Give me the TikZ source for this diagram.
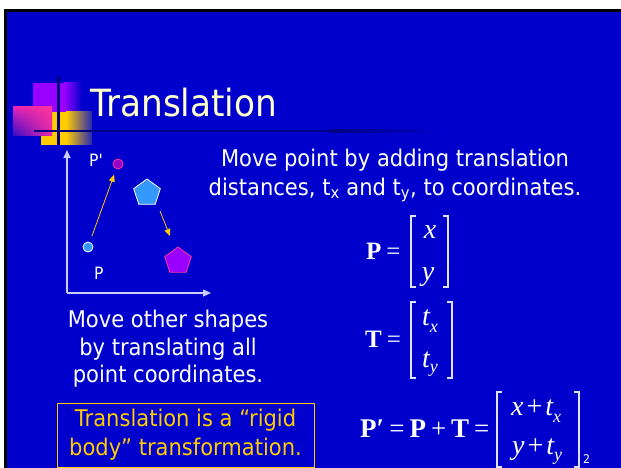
\documentclass[tikz,border=0pt]{standalone}
\usepackage{fontspec}
\newfontfamily\tah{DejaVu Sans}[FakeStretch=0.915]
\newfontfamily\tms{Liberation Serif}
\usetikzlibrary{arrows.meta,shapes.geometric,shadings}
\definecolor{bgblue}{HTML}{0000CC}
\definecolor{ttl}{HTML}{FFFFCC}
\definecolor{gold}{HTML}{FFCC00}
\definecolor{axisc}{HTML}{CCCCFF}
\definecolor{lblue}{HTML}{3399FF}
\definecolor{purp}{HTML}{9900FF}
\definecolor{dpurp}{HTML}{9900CC}
\definecolor{pinkc}{HTML}{FF3399}
\definecolor{navyc}{HTML}{000080}
\definecolor{brkc}{HTML}{E0E0FF}
\tikzset{
  body/.style={text=white, font=\tah\fontsize{23}{28}\selectfont, inner sep=0pt, anchor=base},
  mathop/.style={text=white, inner sep=0pt, anchor=base west},
  ent/.style={text=white, inner sep=0pt, anchor=base, font=\tms\itshape\fontsize{28}{28}\selectfont},
  brk/.style={draw=brkc, line width=1.3pt},
  axisline/.style={draw=axisc, line width=1.2pt, -{Triangle[length=8pt,width=7pt]}},
  movearrow/.style={draw=gold, line width=0.8pt, -{Triangle[length=7pt,width=6pt]}},
  lbl/.style={text=white, font=\tah\fontsize{17}{17}\selectfont, inner sep=0pt, anchor=base west},
  dot/.style={circle, inner sep=0pt, minimum size=10pt, line width=0.8pt},
  pent/.style={regular polygon, regular polygon sides=5, inner sep=0pt, minimum size=28pt, line width=0.8pt}
}
\newcommand{\subx}[2]{\raisebox{-#1pt}{\fontsize{18}{18}\selectfont #2}}
\begin{document}
\begin{tikzpicture}[x=1pt,y=-1pt]
\useasboundingbox (0,0) rectangle (621,468);
% background and frame
\fill[white] (0,0) rectangle (621,468);
\fill[black] (4,9) rectangle (621,468);
\fill[bgblue] (7,12) rectangle (621,468);
% logo
\fill[purp] (33,83) rectangle (64,113);
\shade[left color=purp, right color=bgblue] (64,83) rectangle (82,113);
\fill[gold] (41,112) rectangle (66,145);
\shade[left color=gold, right color=bgblue!70!gray] (66,112) rectangle (92,145);
\shade[upper left=pinkc!70!purp, upper right=pinkc, lower left=bgblue!80!pinkc, lower right=pinkc!80!purp] (13,107) rectangle (52,136);
\fill[navyc] (57,76) rectangle (59.5,145);
\fill[navyc] (34,130) rectangle (330,132.5);
\shade[left color=navyc, right color=bgblue] (330,130) rectangle (440,132.5);
% title
\node[font=\tah\fontsize{37.5}{37.5}\selectfont, text=ttl, anchor=base west, inner sep=0pt] (title) at (90,117) {Translation};
% axes
\coordinate (orig) at (67,293);
\coordinate (ytip) at (67,150);
\coordinate (xtip) at (211,293);
\draw[axisline] (orig) -- (ytip);
\draw[axisline] (orig) -- (xtip);
% points and shapes
\node[dot, fill=lblue, draw=white] (pdot) at (88,247) {};
\node[dot, fill=dpurp, draw=pinkc] (ppdot) at (118,164) {};
\node[lbl] (plabel) at (94,279) {P};
\node[lbl] (pplabel) at (89,167) {P'};
\draw[movearrow, shorten <=6pt, shorten >=6pt] (pdot) -- (ppdot);
\node[pent, fill=lblue, draw=white] (bpent) at (147,193) {};
\node[pent, fill=purp, draw=pinkc] (ppent) at (178,261) {};
\coordinate (a2s) at (160,211);
\coordinate (a2e) at (170,236);
\draw[movearrow] (a2s) -- (a2e);
% text
\node[body] (r1) at (395,167) {Move point by adding translation};
\node[body] (r2) at (395,195) {distances, t\textsubscript{x} and t\textsubscript{y}, to coordinates.};
\node[body] (s1) at (168,327) {Move other shapes};
\node[body] (s2) at (168,355) {by translating all};
\node[body] (s3) at (168,382) {point coordinates.};
\node[draw=gold, line width=1pt, text=gold, font=\tah\fontsize{23}{29}\selectfont, align=center, minimum width=257pt, minimum height=64pt, inner sep=0pt] (rigid) at (185.5,435) {Translation is a “rigid\\body” transformation.};
% equations
\node[mathop, font=\tms\fontsize{25}{25}\selectfont] (peq) at (366,259) {\textbf{P}\hspace{5pt}=};
\node[ent] (px) at (430,238) {x};
\node[ent] (py) at (428,280) {y};
\draw[brk] (416,216) -- (411,216) -- (411,287) -- (416,287);
\draw[brk] (443,216) -- (448,216) -- (448,287) -- (443,287);
\node[mathop, font=\tms\fontsize{25}{25}\selectfont] (teq) at (365,347) {\textbf{T}\hspace{5pt}=};
\node[ent, anchor=base west] (tx) at (422,325) {t\subx{7}{x}};
\node[ent, anchor=base west] (ty) at (422,367) {t\subx{5}{y}};
\draw[brk] (416,302) -- (411,302) -- (411,378) -- (416,378);
\draw[brk] (447,302) -- (452,302) -- (452,378) -- (447,378);
\node[mathop, font=\tms\fontsize{27}{27}\selectfont] (ppeq) at (360,437) {\textbf{P′}\hspace{5pt}=\hspace{5pt}\textbf{P}\hspace{5pt}+\hspace{5pt}\textbf{T}\hspace{5pt}=};
\node[ent, anchor=base west] (r1e) at (511,415) {x\hspace{3pt}\upshape+\hspace{3pt}\itshape t\subx{7}{x}};
\node[ent, anchor=base west] (r2e) at (512,454) {y\hspace{3pt}\upshape+\hspace{3pt}\itshape t\subx{6}{y}};
\draw[brk] (502,392) -- (497,392) -- (497,467) -- (502,467);
\draw[brk] (574,392) -- (579,392) -- (579,467) -- (574,467);
\node[text=white, font=\tah\fontsize{12}{12}\selectfont, inner sep=0pt, anchor=base west] (pnum) at (583,463) {2};
\end{tikzpicture}
\end{document}
